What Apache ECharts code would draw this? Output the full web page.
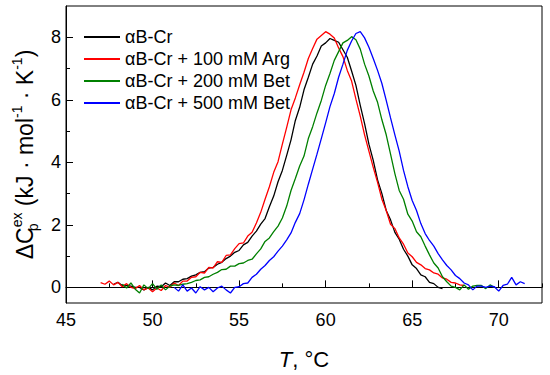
<!DOCTYPE html>
<html>
<head>
<meta charset="utf-8">
<script src="https://cdn.jsdelivr.net/npm/echarts@6/dist/echarts.min.js"></script>
<style>html,body{margin:0;padding:0;background:#fff}#c{width:550px;height:375px}</style>
</head>
<body>
<div id="c"></div>
<script>
// Temperature sampling (°C): start and step of each scan
const step = 0.25;
const startCr = 47.75, startArg = 47.0, startBet200 = 48.25, startBet500 = 51.25;
const seriesNames = ['\u03b1B-Cr', '\u03b1B-Cr + 100 mM Arg', '\u03b1B-Cr + 200 mM Bet', '\u03b1B-Cr + 500 mM Bet'];
const xLabels = [45, 50, 55, 60, 65, 70];
const xMinor = [47.5, 52.5, 57.5, 62.5, 67.5, 72.5];
const yLabels = [0, 2, 4, 6, 8];
const yMinor = [1, 3, 5, 7];

const cpCr = [0.10,0.16,0.06,0.06,0.04,0.00,0.00,-0.08,0.00,-0.08,0.04,0.02,0.14,0.06,0.18,0.18,0.26,0.28,0.36,0.40,
0.48,0.50,0.62,0.64,0.74,0.80,0.92,1.00,1.12,1.18,1.36,1.44,1.64,1.80,2.02,2.20,2.58,2.92,3.38,3.74,
4.22,4.72,5.34,5.76,6.32,6.72,7.14,7.40,7.72,7.82,7.96,7.90,7.84,7.60,7.36,6.92,6.46,5.82,5.24,4.58,
4.06,3.44,3.00,2.46,2.16,1.76,1.54,1.22,1.00,0.72,0.60,0.40,0.34,0.16,0.12,0.00,-0.04];

const cpArg = [0.15,0.10,0.20,0.08,0.16,0.02,0.12,0.00,-0.04,0.06,-0.08,-0.02,-0.14,-0.02,-0.10,0.06,0.00,0.14,0.06,0.20,
0.20,0.32,0.34,0.48,0.46,0.64,0.62,0.82,0.80,1.02,1.04,1.24,1.40,1.42,1.64,1.76,2.06,2.40,2.82,3.22,
3.68,4.02,4.58,5.12,5.68,6.06,6.48,6.88,7.32,7.64,7.94,8.06,8.18,8.10,7.98,7.66,7.38,6.94,6.60,6.02,
5.48,4.88,4.36,3.84,3.36,2.82,2.46,2.02,1.88,1.58,1.38,1.10,0.98,0.80,0.72,0.60,0.56,0.46,0.42,0.30,
0.26,0.16,0.14,0.08,0.06];

const cpBet200 = [0.10,-0.02,0.14,-0.06,-0.18,0.08,-0.04,0.12,-0.06,0.08,-0.08,0.04,0.08,0.06,0.10,0.12,0.16,0.22,0.24,0.32,
0.34,0.42,0.48,0.57,0.58,0.68,0.68,0.76,0.78,0.86,0.90,1.07,1.23,1.47,1.58,1.78,1.96,2.22,2.60,3.10,
3.48,3.88,4.20,4.76,5.14,5.58,5.98,6.46,6.84,7.26,7.54,7.82,7.90,8.02,7.92,7.62,7.14,6.76,6.28,5.92,
5.36,4.88,4.26,3.64,3.10,2.82,2.34,2.12,1.78,1.62,1.32,1.04,0.78,0.62,0.34,0.18,0.04,0.00,-0.08,0.08,
-0.06,0.04,0.06,0.06,-0.04,0.08,0.00];

const cpBet500 = [0.00,-0.12,0.08,-0.12,-0.02,-0.18,0.02,-0.08,0.00,-0.14,-0.02,0.04,-0.08,-0.18,0.00,0.02,0.12,0.14,0.32,0.42,
0.58,0.70,0.86,0.98,1.16,1.32,1.52,1.74,2.08,2.36,2.80,3.30,3.78,4.26,4.76,5.26,5.78,6.20,6.72,7.14,
7.58,7.88,8.12,8.18,7.98,7.68,7.32,6.94,6.52,5.98,5.42,4.88,4.36,3.74,3.22,2.78,2.46,2.04,1.72,1.50,
1.32,1.08,0.88,0.70,0.56,0.38,0.28,0.14,0.08,-0.08,0.04,0.04,0.00,0.04,0.02,-0.12,0.06,0.10,0.32,0.08,
0.18,0.12];

function pairs(start, vals) { return vals.map((v, i) => [start + i * step, v]); }

const chart = echarts.init(document.getElementById('c'), null, { renderer: 'svg' });
const FONT = '"Liberation Sans", Arial, sans-serif';
const colors = ['#000000', '#ff0000', '#008000', '#0000ff'];
const datasets = [pairs(startCr, cpCr), pairs(startArg, cpArg), pairs(startBet200, cpBet200), pairs(startBet500, cpBet500)];

const option = {
  animation: false,
  backgroundColor: '#fff',
  textStyle: { fontFamily: FONT },
  grid: { left: 66, right: 8, top: 6, bottom: 72, show: true, borderColor: '#000', borderWidth: 1, backgroundColor: 'transparent' },
  legend: {
    orient: 'vertical', left: 78, top: 23, itemWidth: 36, itemHeight: 14, itemGap: 4,
    itemStyle: { opacity: 0 },
    textStyle: { fontSize: 18, color: '#000', fontFamily: FONT },
    data: seriesNames
  },
  xAxis: [{
    type: 'value', min: 45, max: 72.5, interval: 5,
    axisLine: { show: true, lineStyle: { color: '#000', width: 1 } },
    axisTick: { show: true, inside: true, length: 7, customValues: xLabels, lineStyle: { color: '#000' } },
    axisLabel: { customValues: xLabels, fontSize: 18, color: '#000', margin: 8, fontFamily: FONT },
    splitLine: { show: false },
    name: '{i|T}, \u00b0C', nameLocation: 'middle', nameGap: 45,
    nameTextStyle: { fontSize: 22, color: '#000', fontFamily: FONT, rich: { i: { fontStyle: 'italic', fontSize: 22, fontFamily: FONT } } }
  }, {
    type: 'value', min: 45, max: 72.5, position: 'bottom',
    axisLine: { show: false },
    axisTick: { show: true, inside: true, length: 4, customValues: xMinor, lineStyle: { color: '#000' } },
    axisLabel: { show: false },
    splitLine: { show: false }
  }],
  yAxis: [{
    type: 'value', min: -0.5, max: 9,
    axisLine: { show: true, lineStyle: { color: '#000', width: 1 } },
    axisTick: { show: true, inside: true, length: 7, customValues: yLabels, lineStyle: { color: '#000' } },
    axisLabel: { customValues: yLabels, fontSize: 18, color: '#000', margin: 5, fontFamily: FONT },
    splitLine: { show: false },
    name: '\u0394C{sub|p}{sup|ex} (kJ \u00b7 mol{sup|-1} \u00b7 K{sup|-1})', nameLocation: 'middle', nameRotate: 90, nameGap: 25,
    nameTextStyle: {
      fontSize: 23, color: '#000', fontFamily: FONT, lineHeight: 30,
      rich: {
        sub: { fontSize: 14, verticalAlign: 'bottom', lineHeight: 30, fontFamily: FONT, width: 0 },
        sup: { fontSize: 14, verticalAlign: 'top', lineHeight: 30, fontFamily: FONT }
      }
    }
  }, {
    type: 'value', min: -0.5, max: 9, position: 'left',
    axisLine: { show: false },
    axisTick: { show: true, inside: true, length: 4, customValues: yMinor, lineStyle: { color: '#000' } },
    axisLabel: { show: false },
    splitLine: { show: false }
  }],
  series: seriesNames.map((n, k) => ({
    name: n, type: 'line', xAxisIndex: 0, yAxisIndex: 0,
    data: datasets[k], showSymbol: false, symbol: 'none',
    lineStyle: { color: colors[k], width: 1.3 }, itemStyle: { color: colors[k] }
  }))
};
chart.setOption(option);
</script>
</body>
</html>
